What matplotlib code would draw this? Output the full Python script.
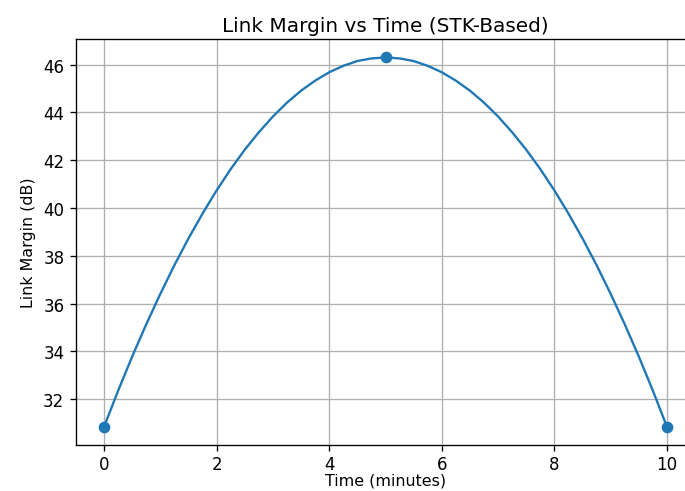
import matplotlib
matplotlib.use("Agg")
import matplotlib.pyplot as plt

time_min = [0.0, 0.25, 0.5, 0.75, 1.0, 1.25, 1.5, 1.75, 2.0, 2.25, 2.5, 2.75, 3.0, 3.25, 3.5, 3.75,
            4.0, 4.25, 4.5, 4.75, 5.0, 5.25, 5.5, 5.75, 6.0, 6.25, 6.5, 6.75, 7.0, 7.25, 7.5, 7.75,
            8.0, 8.25, 8.5, 8.75, 9.0, 9.25, 9.5, 9.75, 10.0]
link_margin_db = [30.85, 32.36, 33.79, 35.14, 36.41, 37.61, 38.73, 39.77, 40.74, 41.63, 42.44,
                  43.17, 43.83, 44.41, 44.91, 45.33, 45.68, 45.95, 46.15, 46.26, 46.30,
                  46.26, 46.15, 45.95, 45.68, 45.33, 44.91, 44.41, 43.83, 43.17, 42.44,
                  41.63, 40.74, 39.77, 38.73, 37.61, 36.41, 35.14, 33.79, 32.36, 30.85]
marker_idx = [0, 20, 40]

DPI = 120
fig = plt.figure(figsize=(685/DPI, 492/DPI), dpi=DPI)
ax = fig.add_axes([76/685, 1-446/492, (695-76)/685, (446-40)/492])
ax.plot(time_min, link_margin_db, '-o', color='#1f77b4', markevery=marker_idx, markersize=6, linewidth=1.4)
ax.set_title("Link Margin vs Time (STK-Based)", pad=5)
ax.tick_params(axis='x', pad=2.5)
ax.set_xlabel("Time (minutes)", labelpad=0, fontsize=9.5)
ax.set_ylabel("Link Margin (dB)", fontsize=9.5)
ax.grid(True)
fig.savefig("out.png", dpi=DPI)
